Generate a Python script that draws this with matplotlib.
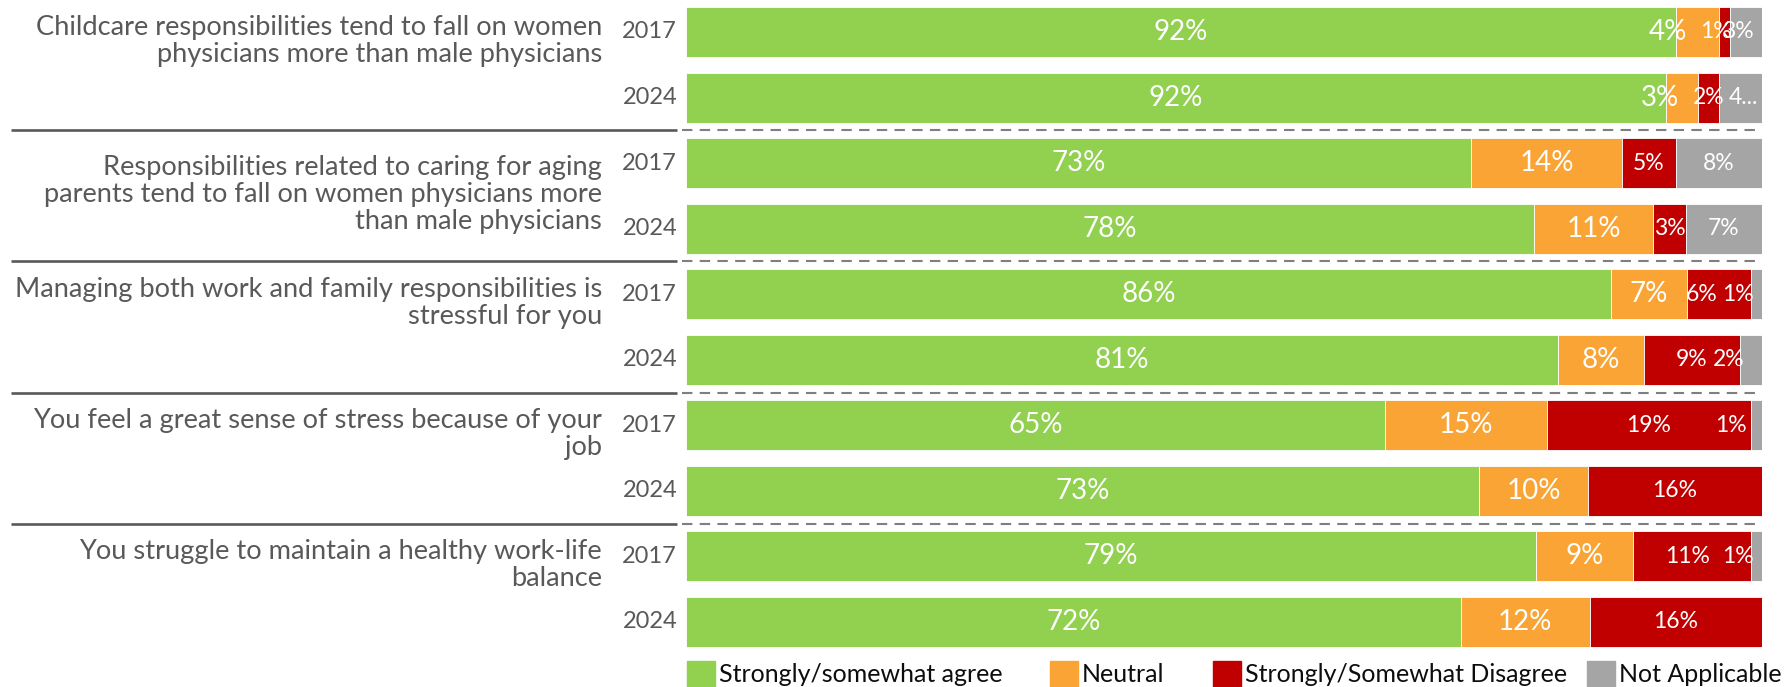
import matplotlib
matplotlib.use("Agg")
import matplotlib.pyplot as plt
import matplotlib.transforms as mtransforms
from matplotlib.patches import Rectangle

plt.rcParams["font.family"] = ["Lato", "DejaVu Sans"]

statements = [
    "Childcare responsibilities tend to fall on women\nphysicians more than male physicians",
    "Responsibilities related to caring for aging\nparents tend to fall on women physicians more\nthan male physicians",
    "Managing both work and family responsibilities is\nstressful for you",
    "You feel a great sense of stress because of your\njob",
    "You struggle to maintain a healthy work-life\nbalance",
]
years = ["2017", "2024"]
categories = ["Strongly/somewhat agree", "Neutral",
              "Strongly/Somewhat Disagree", "Not Applicable"]

# % of respondents; rows go statement by statement, 2017 then 2024
agree = [92, 92, 73, 78, 86, 81, 65, 73, 79, 72]
neutral = [4, 3, 14, 11, 7, 8, 15, 10, 9, 12]
disagree = [1, 2, 5, 3, 6, 9, 19, 16, 11, 16]
not_applicable = [3, 4, 8, 7, 1, 2, 1, 0, 1, 0]

series = [agree, neutral, disagree, not_applicable]
colors = ["#92D050", "#F9A435", "#C00000", "#A5A5A5"]
label_sizes = [20, 20, 16.5, 16.5]

# hand-placed data labels for the thin segments (dx in pixels)
nudge = {(0, 1): -30, (0, 2): -8, (0, 3): -8, (1, 1): -22, (1, 3): 3,
         (4, 2): -17, (4, 3): -19, (5, 3): -23, (6, 3): -26,
         (8, 2): -5, (8, 3): -19}
truncated = {(1, 3)}

W, H = 1789, 687
fig = plt.figure(figsize=(W / 100, H / 100), dpi=100)
# bar area: x 686..1762 px, row pitch 65.55 px, first row centred at 32 px
ax = fig.add_axes([686 / W, 0, 1076 / W, 1])
pitch = 65.55
ax.set_ylim((H - 32) / pitch, -32 / pitch)
ax.set_xlim(0, 100)
ax.axis("off")

n_rows = len(agree)
rows = list(range(n_rows))
totals = [sum(s[i] for s in series) for i in rows]
left = [0.0] * n_rows
for k, (vals, col) in enumerate(zip(series, colors)):
    shares = [100 * v / t for v, t in zip(vals, totals)]
    ax.barh(rows, shares, left=left, height=0.763, color=col,
            edgecolor="white", linewidth=0.6)
    for i in rows:
        if vals[i] == 0:
            continue
        txt = f"{vals[i]}..." if (i, k) in truncated else f"{vals[i]}%"
        off = mtransforms.offset_copy(ax.transData, fig=fig,
                                      x=nudge.get((i, k), 0), y=0,
                                      units="dots")
        ax.text(left[i] + shares[i] / 2, i, txt, transform=off,
                ha="center", va="center", color="white",
                fontsize=label_sizes[k])
    left = [l + s for l, s in zip(left, shares)]

row_tf = mtransforms.blended_transform_factory(fig.transFigure, ax.transData)

for i in rows:
    ax.text(677 / W, i, years[i % 2], transform=row_tf, ha="right",
            va="center", fontsize=17, color="#595959", clip_on=False)

for g, label in enumerate(statements):
    n_lines = label.count("\n") + 1
    # two-line labels sit with their first line on the 2017 bar,
    # the three-line one is centred on its pair of bars
    y = 2 * g + (0.48 if n_lines == 3 else 0.133)
    ax.text(602 / W, y, label, transform=row_tf, ha="right", va="center",
            fontsize=19.6, color="#595959", linespacing=1.12, clip_on=False)

# separators between statements
for g in range(1, len(statements)):
    y = 2 * g - 0.5
    ax.plot([11 / W, 677 / W], [y, y], transform=row_tf, color="#595959",
            lw=1.9, clip_on=False, solid_capstyle="butt")
    ax.plot([682 / W, 1762 / W], [y, y], transform=row_tf, color="#7F7F7F",
            lw=1.5, ls=(0, (5, 3.5)), clip_on=False)

# legend along the bottom edge
legend_x = [687, 1050, 1213, 1587]
for x, col, name in zip(legend_x, colors, categories):
    fig.patches.append(Rectangle((x / W, -4 / H), 28 / W, 30 / H,
                                 transform=fig.transFigure, color=col))
    fig.text((x + 32) / W, 5 / H, name, ha="left", va="baseline",
             fontsize=18, color="#0D0D0D")

fig.savefig("out.png", dpi=100)
